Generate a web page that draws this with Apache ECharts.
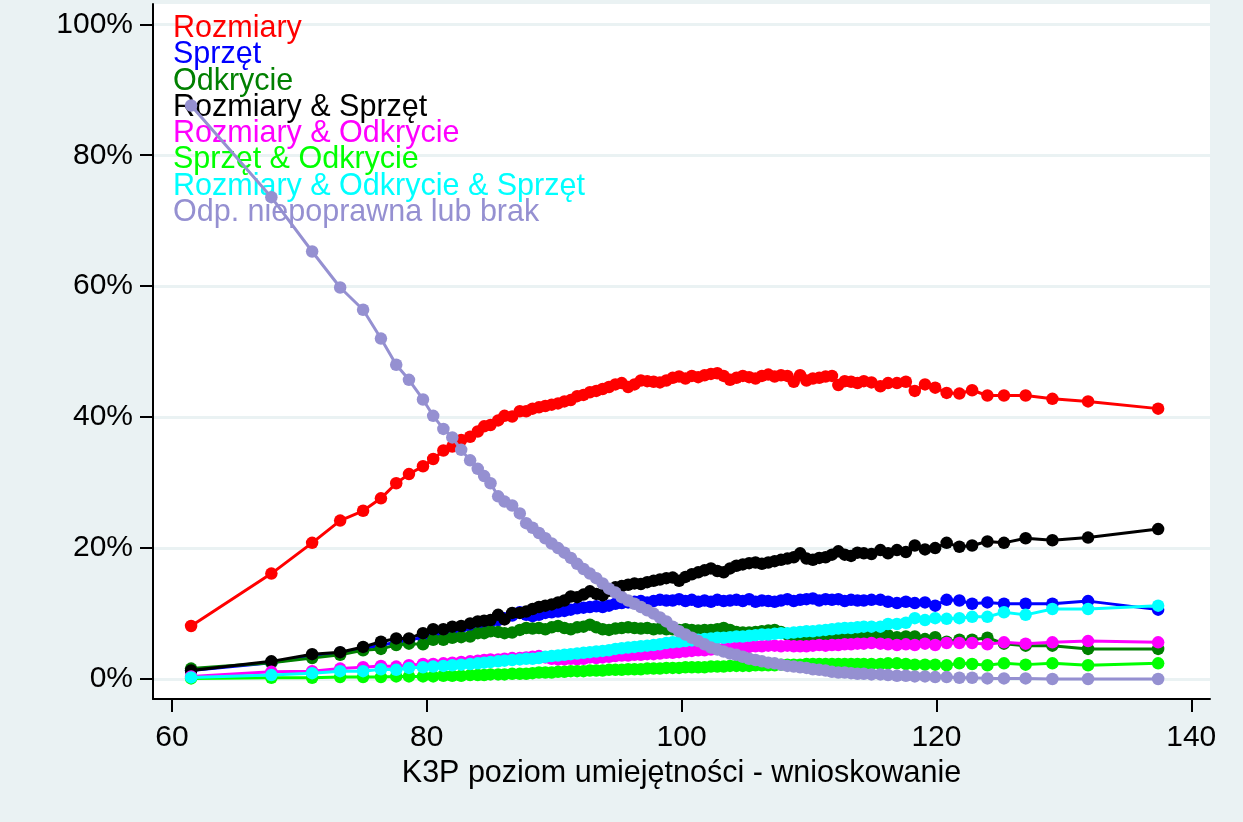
<!DOCTYPE html>
<html>
<head>
<meta charset="utf-8">
<script src="https://cdn.jsdelivr.net/npm/echarts@6/dist/echarts.min.js"></script>
<style>
html,body{margin:0;padding:0;background:#EAF2F3;}
#chart{width:1243px;height:822px;}
</style>
</head>
<body>
<div id="chart"></div>
<script>
var xValues = [61.5, 67.8, 71.0, 73.2, 75.0, 76.4, 77.6, 78.6, 79.7, 80.5,
  81.3, 82.0, 82.7, 83.4, 84.0, 84.5, 85.0, 85.6, 86.1, 86.7,
  87.3, 87.8, 88.3, 88.8, 89.3, 89.8, 90.3, 90.8, 91.3, 91.8,
  92.3, 92.8, 93.3, 93.8, 94.3, 94.8, 95.3, 95.8, 96.3, 96.8,
  97.3, 97.8, 98.3, 98.8, 99.3, 99.8, 100.3, 100.8, 101.3, 101.8,
  102.3, 102.8, 103.3, 103.8, 104.3, 104.8, 105.3, 105.8, 106.3, 106.8,
  107.3, 107.8, 108.3, 108.8, 109.3, 109.8, 110.3, 110.8, 111.3, 111.8,
  112.3, 112.8, 113.3, 113.8, 114.3, 114.9, 115.6, 116.2, 116.9, 117.6,
  118.3, 119.1, 119.9, 120.8, 121.8, 122.8, 124.0, 125.3, 127.0, 129.1,
  131.9, 137.4];

var rozmiary = [8.1, 16.1, 20.8, 24.2, 25.7, 27.6, 29.9, 31.3, 32.5, 33.6,
  34.9, 35.5, 36.5, 37.0, 37.8, 38.6, 38.8, 39.5, 40.2, 40.1,
  40.9, 40.9, 41.3, 41.5, 41.7, 41.9, 42.1, 42.4, 42.6, 43.2,
  43.4, 43.8, 44.0, 44.3, 44.6, 45.0, 45.2, 44.6, 45.0, 45.6,
  45.5, 45.4, 45.3, 45.6, 46.0, 46.2, 45.9, 46.3, 46.1, 46.4,
  46.6, 46.7, 46.3, 45.7, 46.0, 46.3, 46.1, 45.9, 46.3, 46.5,
  46.2, 46.4, 46.3, 45.4, 46.4, 45.6, 45.9, 46.0, 46.2, 46.3,
  44.9, 45.5, 45.4, 45.2, 45.5, 45.3, 44.7, 45.2, 45.2, 45.4,
  44.0, 45.0, 44.5, 43.7, 43.6, 44.1, 43.3, 43.3, 43.3, 42.8,
  42.4, 41.3];

var sprzet = [1.3, 2.5, 3.5, 4.0, 4.6, 5.2, 5.6, 5.9, 6.4, 6.9,
  7.2, 7.6, 7.9, 8.1, 8.3, 8.5, 8.7, 9.0, 9.3, 9.7,
  10.2, 9.8, 9.6, 9.8, 10.1, 10.2, 10.3, 10.4, 10.6, 10.8,
  10.9, 11.0, 11.1, 11.0, 11.2, 11.5, 11.6, 11.7, 11.8, 11.9,
  11.7, 11.9, 12.1, 12.0, 12.0, 12.2, 11.9, 12.1, 11.8, 12.0,
  11.8, 12.1, 11.9, 12.0, 12.1, 11.9, 12.2, 11.8, 12.0, 11.9,
  11.8, 12.0, 12.2, 11.9, 12.1, 12.2, 12.3, 12.0, 12.2, 12.1,
  12.2, 11.9, 12.1, 12.0, 12.0, 12.1, 12.1, 11.8, 11.6, 11.8,
  11.6, 11.7, 11.2, 12.1, 12.0, 11.5, 11.7, 11.5, 11.5, 11.5,
  11.9, 10.6];

var odkrycie = [1.6, 2.5, 3.2, 3.7, 4.4, 4.6, 5.2, 5.4, 5.3, 6.0,
  6.0, 6.3, 6.4, 6.5, 7.0, 7.0, 7.3, 7.2, 7.0, 7.1,
  7.5, 7.8, 7.7, 7.8, 7.6, 7.9, 8.1, 7.8, 7.6, 7.9,
  8.0, 8.3, 7.9, 7.6, 7.5, 7.7, 7.8, 7.9, 7.8, 7.7,
  7.8, 7.6, 7.7, 7.6, 7.6, 7.5, 7.6, 7.5, 7.4, 7.5,
  7.5, 7.6, 7.8, 7.5, 7.2, 7.1, 7.1, 7.2, 7.3, 7.4,
  7.5, 7.2, 6.8, 6.6, 6.5, 6.1, 6.3, 6.4, 6.2, 6.3,
  6.2, 6.4, 6.5, 6.4, 6.5, 6.6, 6.8, 6.7, 6.4, 6.5,
  6.5, 6.1, 6.4, 5.7, 6.0, 6.0, 6.3, 5.4, 5.1, 5.1,
  4.6, 4.6];

var rozmiarySprzet = [1.3, 2.7, 3.8, 4.1, 4.9, 5.7, 6.2, 6.2, 7.0, 7.6,
  7.6, 8.0, 8.1, 8.5, 8.8, 8.9, 9.0, 9.8, 9.1, 10.1,
  10.1, 10.3, 10.7, 11.0, 11.2, 11.4, 11.7, 12.0, 12.6, 12.5,
  12.9, 13.4, 13.0, 12.8, 13.5, 14.0, 14.2, 14.4, 14.6, 14.5,
  14.8, 15.0, 15.2, 15.4, 15.5, 15.0, 15.6, 16.0, 16.3, 16.6,
  16.9, 16.5, 16.3, 16.9, 17.3, 17.5, 17.7, 17.8, 17.6, 17.8,
  18.0, 18.2, 18.4, 18.6, 19.2, 18.4, 18.2, 18.5, 18.6, 19.0,
  19.5, 19.0, 18.8, 19.3, 19.2, 19.1, 19.7, 19.2, 19.7, 19.4,
  20.4, 19.8, 20.0, 20.8, 20.2, 20.4, 21.0, 20.8, 21.5, 21.2,
  21.6, 22.9];

var rozmiaryOdkrycie = [0.4, 1.1, 1.2, 1.6, 1.8, 2.0, 1.9, 2.1, 2.3, 2.3,
  2.4, 2.5, 2.6, 2.7, 2.8, 2.9, 3.0, 3.0, 3.1, 3.2,
  3.2, 3.3, 3.4, 3.5, 3.3, 3.1, 3.0, 3.0, 3.1, 3.0,
  3.1, 3.3, 3.2, 3.3, 3.4, 3.5, 3.6, 3.6, 3.7, 3.7,
  3.8, 3.8, 3.9, 4.0, 4.0, 4.1, 4.2, 4.3, 4.4, 4.4,
  4.5, 4.6, 4.6, 4.7, 4.8, 4.9, 4.9, 5.0, 5.0, 5.1,
  5.1, 5.0, 5.1, 5.0, 5.0, 5.0, 5.1, 5.2, 5.1, 5.2,
  5.2, 5.3, 5.3, 5.4, 5.4, 5.5, 5.4, 5.3, 5.2, 5.3,
  5.2, 5.4, 5.2, 5.5, 5.5, 5.5, 5.3, 5.6, 5.4, 5.6,
  5.8, 5.6];

var sprzetOdkrycie = [0.1, 0.2, 0.2, 0.3, 0.3, 0.3, 0.4, 0.4, 0.4, 0.4,
  0.5, 0.5, 0.5, 0.6, 0.6, 0.6, 0.7, 0.7, 0.7, 0.8,
  0.8, 0.8, 0.9, 1.0, 1.0, 1.0, 1.1, 1.1, 1.2, 1.2,
  1.2, 1.3, 1.3, 1.3, 1.4, 1.4, 1.4, 1.5, 1.5, 1.5,
  1.6, 1.6, 1.6, 1.7, 1.7, 1.7, 1.8, 1.8, 1.8, 1.8,
  1.9, 1.9, 1.9, 2.0, 2.0, 2.0, 2.0, 2.1, 2.1, 2.1,
  2.1, 2.2, 2.2, 2.2, 2.2, 2.3, 2.3, 2.3, 2.3, 2.3,
  2.3, 2.3, 2.3, 2.3, 2.3, 2.3, 2.3, 2.4, 2.4, 2.3,
  2.2, 2.2, 2.2, 2.1, 2.4, 2.3, 2.1, 2.4, 2.2, 2.4,
  2.1, 2.4];

var wszystkie = [0.25, 0.6, 0.9, 1.2, 1.2, 1.5, 1.4, 1.7, 1.8, 1.9,
  2.0, 2.1, 2.2, 2.3, 2.4, 2.5, 2.6, 2.7, 2.8, 2.9,
  3.0, 3.1, 3.1, 3.2, 3.4, 3.5, 3.6, 3.7, 3.8, 3.9,
  4.0, 4.1, 4.2, 4.3, 4.4, 4.6, 4.7, 4.8, 4.9, 5.0,
  5.1, 5.2, 5.3, 5.5, 5.6, 5.7, 5.8, 5.9, 6.0, 6.1,
  6.2, 6.3, 6.3, 6.4, 6.5, 6.5, 6.6, 6.7, 6.8, 6.8,
  6.9, 7.0, 7.0, 7.1, 7.2, 7.3, 7.3, 7.4, 7.5, 7.6,
  7.7, 7.8, 7.8, 7.9, 8.0, 8.0, 8.0, 8.4, 8.4, 8.6,
  9.3, 9.0, 9.3, 9.2, 9.3, 9.5, 9.5, 10.2, 9.8, 10.7,
  10.7, 11.2];

var niepoprawna = [87.6, 73.6, 65.3, 59.8, 56.4, 52.0, 48.0, 45.7, 42.7, 40.2,
  38.2, 36.9, 35.0, 33.4, 32.1, 31.0, 29.9, 27.9, 27.1, 26.5,
  25.3, 23.8, 23.1, 22.3, 21.5, 20.7, 20.0, 19.3, 18.5, 17.6,
  16.8, 16.1, 15.4, 14.6, 13.8, 13.2, 12.5, 12.0, 11.5, 11.0,
  10.5, 10.0, 9.4, 8.8, 8.0, 7.3, 6.8, 6.3, 5.8, 5.3,
  4.8, 4.5, 4.2, 3.9, 3.7, 3.4, 3.1, 2.9, 2.7, 2.5,
  2.4, 2.2, 2.0, 1.9, 1.8, 1.7, 1.5, 1.4, 1.3, 1.1,
  1.0, 1.0, 0.9, 0.8, 0.8, 0.7, 0.7, 0.6, 0.5, 0.5,
  0.4, 0.4, 0.3, 0.3, 0.2, 0.2, 0.1, 0.1, 0.1, 0.0,
  0.0, 0.0];

var seriesNames = ['Rozmiary', 'Sprzęt', 'Odkrycie', 'Rozmiary & Sprzęt',
  'Rozmiary & Odkrycie', 'Sprzęt & Odkrycie', 'Rozmiary & Odkrycie & Sprzęt',
  'Odp. niepoprawna lub brak'];
var seriesValues = [rozmiary, sprzet, odkrycie, rozmiarySprzet,
  rozmiaryOdkrycie, sprzetOdkrycie, wszystkie, niepoprawna];
var seriesColors = ['#FF0000', '#0000FF', '#008000', '#000000',
  '#FF00FF', '#00FF00', '#00FFFF', '#9590D1'];

var xTicks = [60, 80, 100, 120, 140];
var yTicks = [0, 20, 40, 60, 80, 100];
var xAxisTitle = 'K3P poziom umiejętności - wnioskowanie';

var FONT = '"Liberation Sans", Arial, sans-serif';

var chart = echarts.init(document.getElementById('chart'), null, {renderer: 'canvas'});

var series = seriesNames.map(function (name, i) {
  return {
    name: name,
    type: 'line',
    data: xValues.map(function (x, j) { return [x, seriesValues[i][j]]; }),
    symbol: 'circle',
    symbolSize: 12.5,
    showSymbol: true,
    showAllSymbol: true,
    color: seriesColors[i],
    itemStyle: {color: seriesColors[i]},
    lineStyle: {color: seriesColors[i], width: 3},
    z: 2 + i,
    animation: false,
    silent: true
  };
});

var option = {
  backgroundColor: '#EAF2F3',
  animation: false,
  grid: {
    left: 153, right: 33, top: 4, bottom: 123,
    show: true, backgroundColor: '#FFFFFF', borderWidth: 0
  },
  legend: {
    orient: 'vertical',
    left: 168, top: 13,
    padding: 0,
    itemGap: -4.7,
    itemWidth: 0,
    itemHeight: 0,
    icon: 'none',
    selectedMode: false,
    textStyle: {fontFamily: FONT, fontSize: 30.5},
    data: seriesNames.map(function (n, i) {
      return {name: n, icon: 'none', textStyle: {color: seriesColors[i]}};
    })
  },
  xAxis: {
    type: 'value',
    min: 58.51, max: 141.47,
    name: xAxisTitle,
    nameLocation: 'middle',
    nameGap: 55,
    nameTextStyle: {fontFamily: FONT, fontSize: 30.5, color: '#000'},
    axisLine: {show: true, onZero: false, lineStyle: {color: '#000', width: 2}},
    axisTick: {show: true, length: 13, lineStyle: {color: '#000', width: 2}, customValues: xTicks},
    axisLabel: {fontFamily: FONT, fontSize: 30, color: '#000', margin: 24, customValues: xTicks},
    splitLine: {show: false}
  },
  yAxis: {
    type: 'value',
    min: -3.05, max: 103.1,
    axisLine: {show: true, onZero: false, lineStyle: {color: '#000', width: 2}},
    axisTick: {show: true, length: 13, lineStyle: {color: '#000', width: 2}, customValues: yTicks},
    axisLabel: {fontFamily: FONT, fontSize: 30, color: '#000', margin: 20, customValues: yTicks,
      formatter: function (v) { return Math.round(v) + '%'; }},
    splitLine: {show: true, lineStyle: {color: '#EAF2F3', width: 3}}
  },
  series: series
};
chart.setOption(option);
</script>
</body>
</html>
